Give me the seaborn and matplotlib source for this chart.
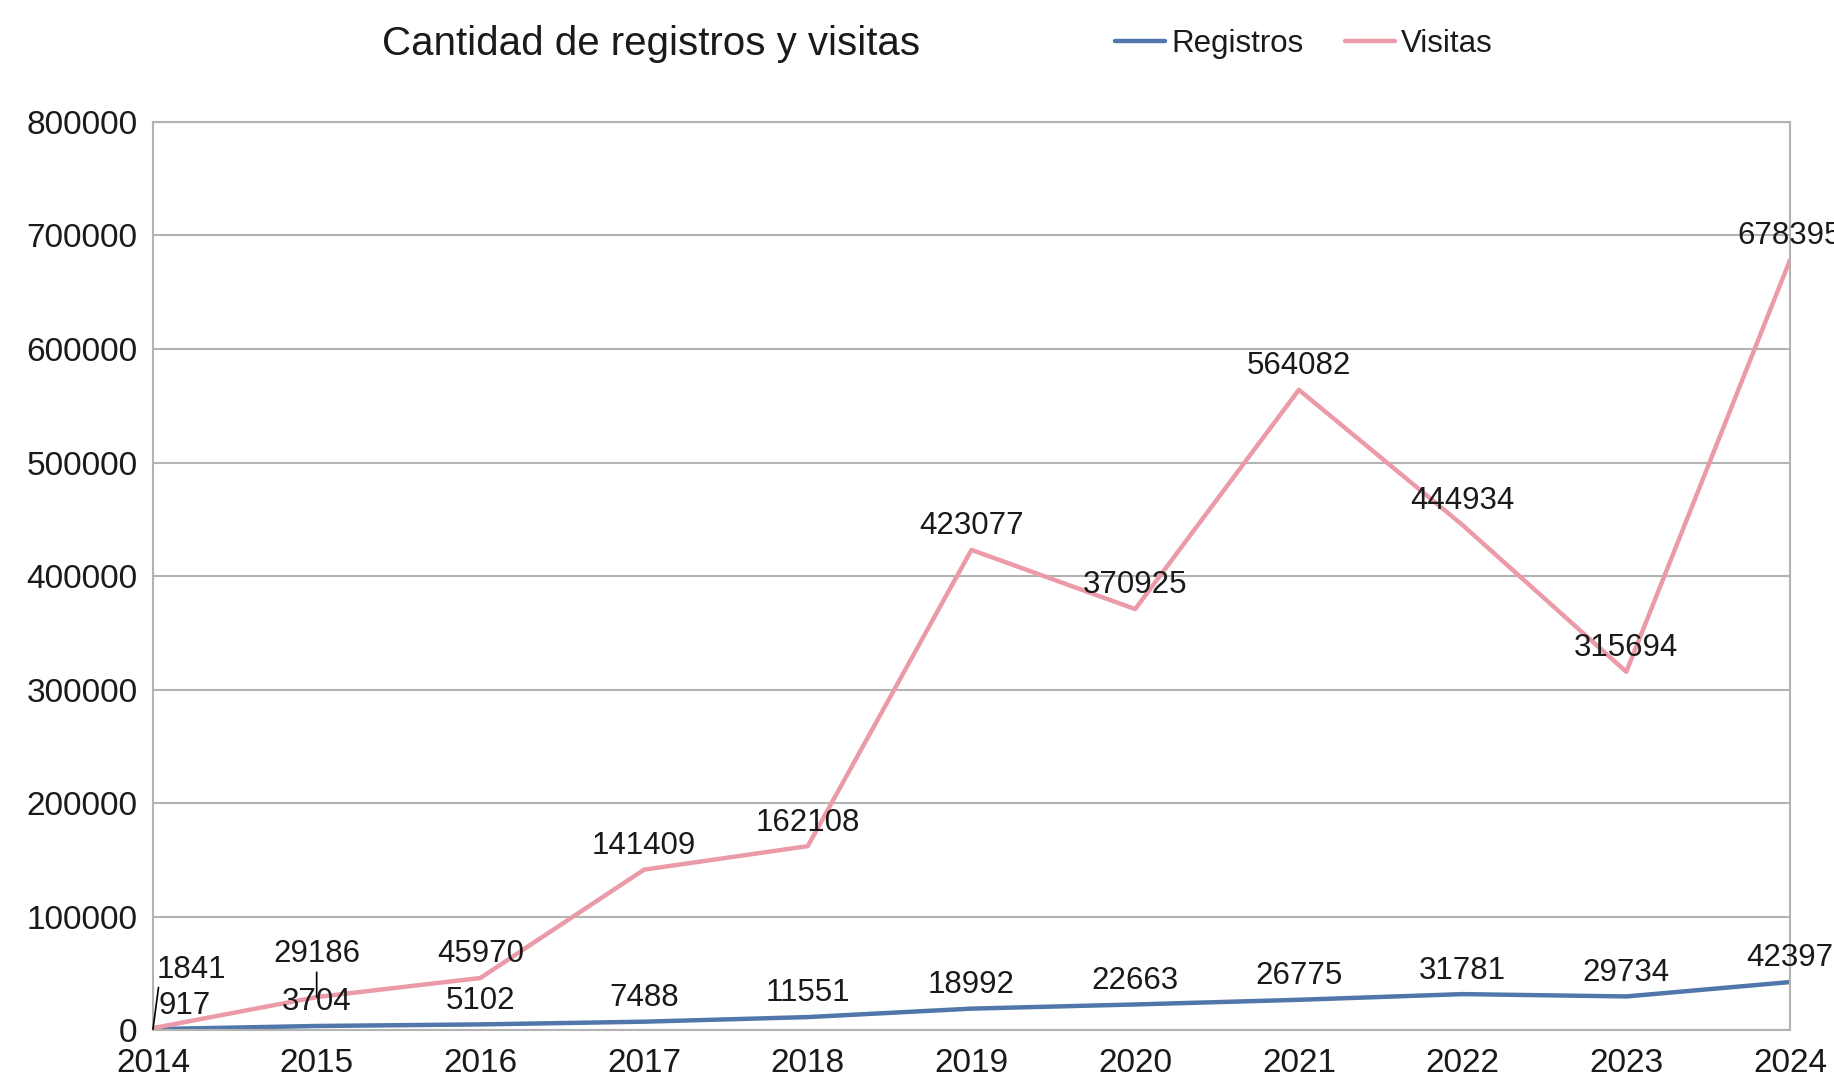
import matplotlib
matplotlib.use("Agg")
import numpy as np
import pandas as pd
import seaborn as sns
from matplotlib import pyplot as plt

years = [2014, 2015, 2016, 2017, 2018, 2019, 2020, 2021, 2022, 2023, 2024]
registros = [917, 3704, 5102, 7488, 11551, 18992, 22663, 26775, 31781, 29734, 42397]
visitas = [1841, 29186, 45970, 141409, 162108, 423077, 370925, 564082, 444934, 315694, 678395]
y_ticks = [0, 100000, 200000, 300000, 400000, 500000, 600000, 700000, 800000]

df = pd.DataFrame(
    {
        "year": years * 2,
        "value": registros + visitas,
        "serie": ["Registros"] * len(years) + ["Visitas"] * len(years),
    }
)

sns.set_style("white")
plt.rcParams["font.family"] = ["Liberation Sans", "DejaVu Sans"]

colors = {"Registros": "#5076aa", "Visitas": "#eb9aa8"}
grid_color = "#b3b3b3"
txt_color = "#1a1a1a"
lbl_size = 22.5

fig = plt.figure(figsize=(18.34, 10.89), dpi=100)
ax = fig.add_axes([0.0834, 0.054, 0.8926, 0.834])

sns.lineplot(
    data=df,
    x="year",
    y="value",
    hue="serie",
    palette=colors,
    linewidth=3.2,
    ax=ax,
    legend=False,
)

ax.set_xlim(years[0], years[-1])
ax.set_ylim(0, 800000)
ax.set_xticks(years)
ax.set_yticks(y_ticks)
ax.set_xticklabels([str(y) for y in years], fontsize=24)
ax.set_yticklabels([str(v) for v in y_ticks], fontsize=24)
ax.set_xlabel("")
ax.set_ylabel("")
ax.grid(axis="y", color=grid_color, linewidth=1.5)
ax.set_axisbelow(True)
for s in ax.spines.values():
    s.set_color(grid_color)
    s.set_linewidth(1.5)
ax.tick_params(axis="both", direction="out", length=8, width=1.5, color=grid_color,
               labelcolor=txt_color)
ax.tick_params(axis="x", pad=5)
ax.tick_params(axis="y", pad=3)

# data labels
for i, (yr, v) in enumerate(zip(years, visitas)):
    if i == 0:
        ax.annotate(str(v), (yr, v), xytext=(3, 42), textcoords="offset points",
                    ha="left", va="center", fontsize=lbl_size, color=txt_color)
    elif i == 1:
        ax.annotate(str(v), (yr, v), xytext=(0, 31), textcoords="offset points",
                    ha="center", va="center", fontsize=lbl_size, color=txt_color,
                    arrowprops=dict(arrowstyle="-", color="black", lw=1.2, shrinkA=0, shrinkB=0))
    else:
        ax.annotate(str(v), (yr, v), xytext=(0, 17), textcoords="offset points",
                    ha="center", va="center", fontsize=lbl_size, color=txt_color,
                    annotation_clip=False)

for i, (yr, v) in enumerate(zip(years, registros)):
    if i == 0:
        ax.annotate(str(v), (yr, v), xytext=(4, 17), textcoords="offset points",
                    ha="left", va="center", fontsize=lbl_size, color=txt_color)
        # leader line from the 2014 point up towards the "1841" label
        ax.annotate("", (yr, v), xytext=(4, 30), textcoords="offset points",
                    arrowprops=dict(arrowstyle="-", color="black", lw=1.2, shrinkA=0, shrinkB=0))
    else:
        ax.annotate(str(v), (yr, v), xytext=(0, 17), textcoords="offset points",
                    ha="center", va="center", fontsize=lbl_size, color=txt_color,
                    annotation_clip=False)

fig.text(0.355, 0.960, "Cantidad de registros y visitas", ha="center", va="center",
         fontsize=29, color=txt_color)

handles = [plt.Line2D([], [], color=colors[k], linewidth=3.2) for k in colors]
fig.legend(handles, list(colors.keys()), loc="center", bbox_to_anchor=(0.711, 0.960),
           ncol=2, frameon=False, fontsize=22.5, handlelength=1.6, handletextpad=0.2,
           columnspacing=1.3, labelcolor=txt_color)

fig.savefig("out.png", dpi=100, facecolor="white")
